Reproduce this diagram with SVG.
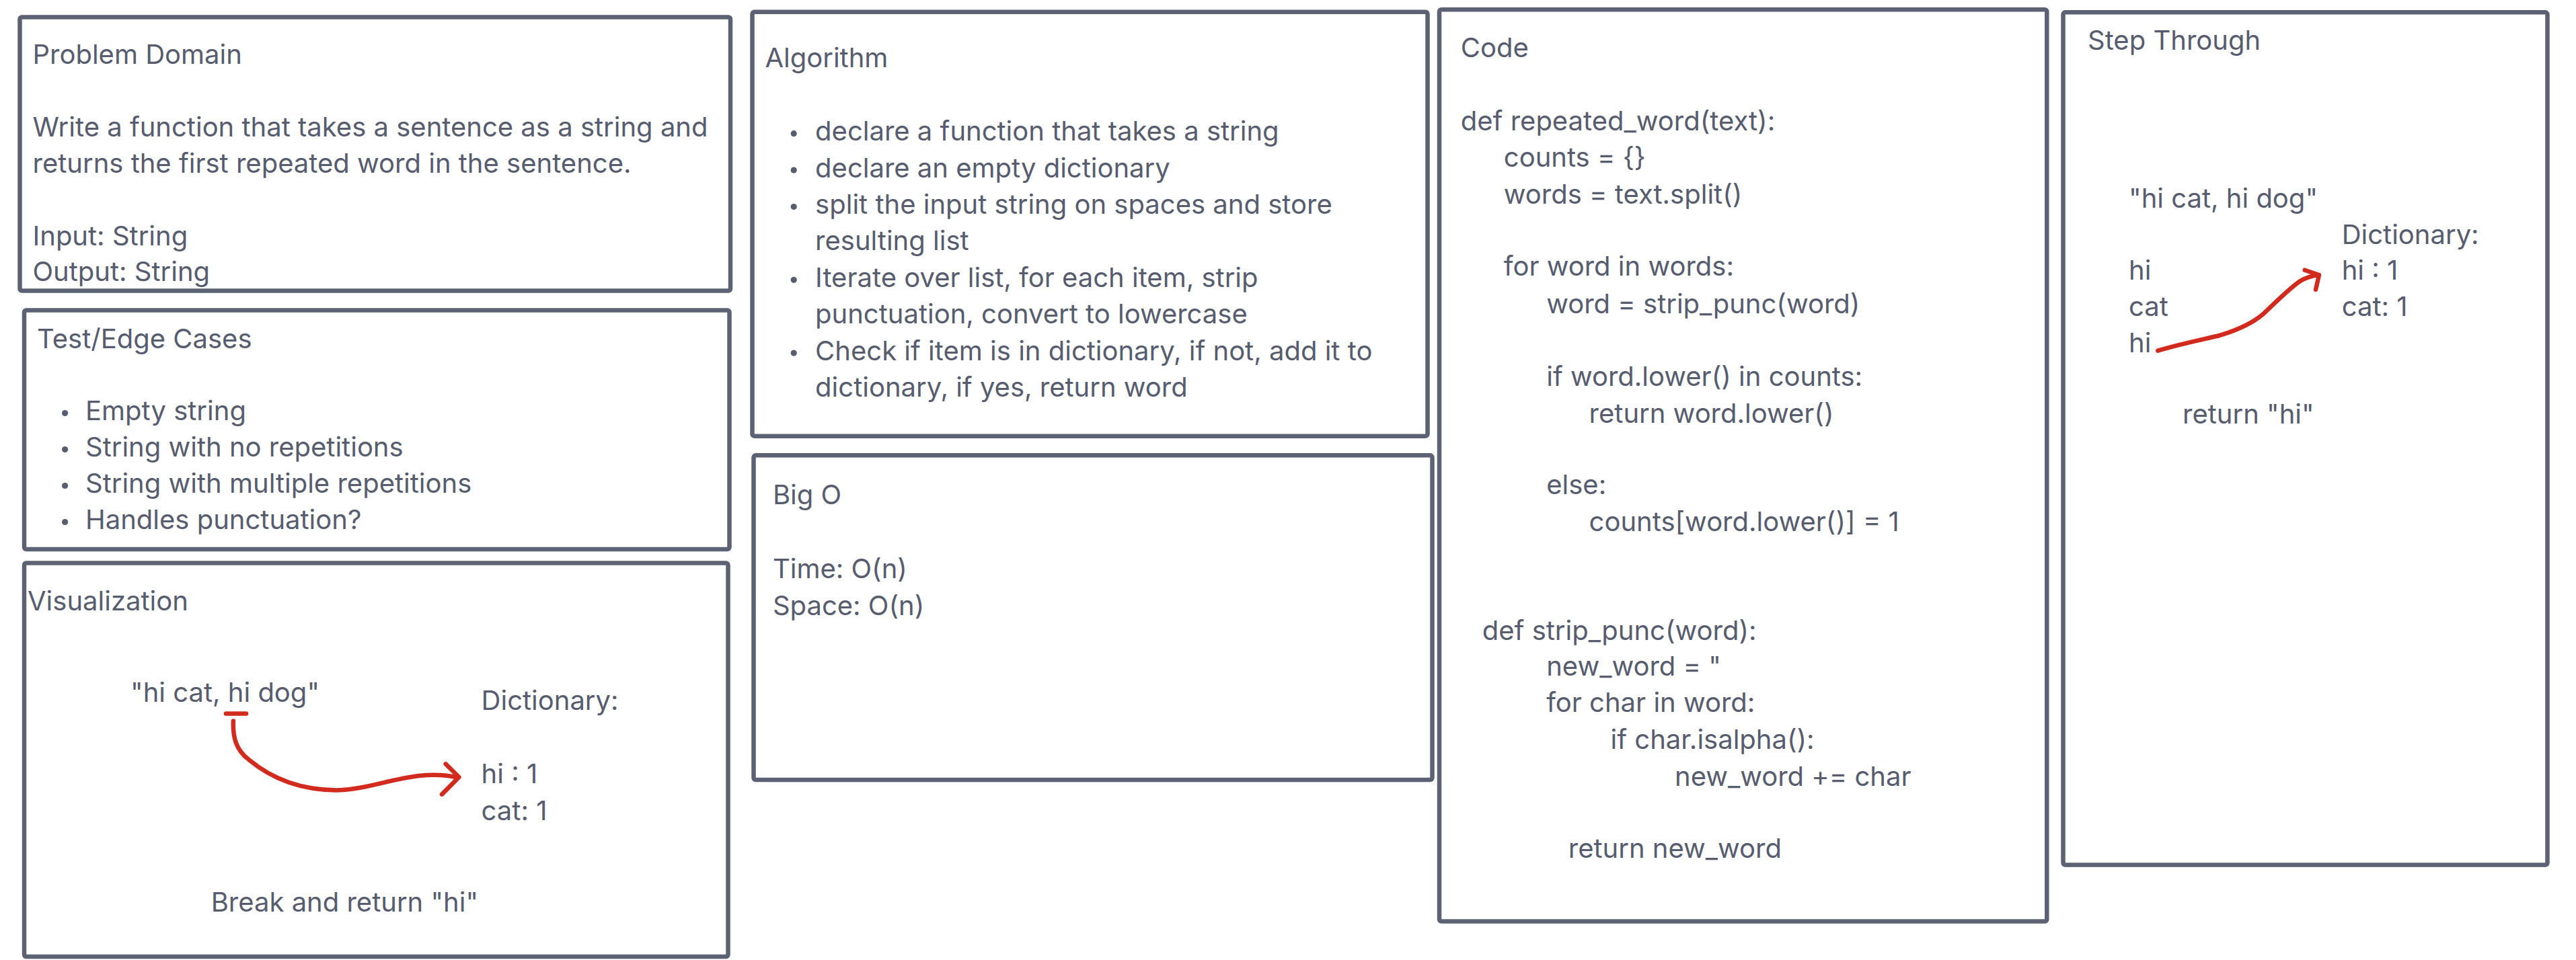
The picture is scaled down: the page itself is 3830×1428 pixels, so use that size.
<svg xmlns="http://www.w3.org/2000/svg" width="3830" height="1428" viewBox="0 0 3830 1428">
<style>
.box{fill:#ffffff;stroke:#5c6173;stroke-width:6.5}
.t{font-family:Inter,"Liberation Sans",sans-serif;font-size:40px;fill:#575c6e}
.dot{fill:#575c6e}
.red{fill:none;stroke:#d22b1e;stroke-width:6.5;stroke-linecap:round;stroke-linejoin:round}
</style>
<rect width="3830" height="1428" fill="#ffffff"/>

<g id="problem-domain">
<rect class="box" x="29.5" y="25.5" width="1056.5" height="407" rx="3"/>
<text class="t" x="48.5" y="95">Problem Domain</text>
<text class="t" x="48.5" y="203.3">Write a function that takes a sentence as a string and</text>
<text class="t" x="48.5" y="257.3">returns the first repeated word in the sentence.</text>
<text class="t" x="48.5" y="365">Input: String</text>
<text class="t" x="48.5" y="418.3">Output: String</text>
</g>

<g id="test-edge-cases">
<rect class="box" x="36" y="461.5" width="1048.5" height="355.5" rx="3"/>
<text class="t" x="55" y="518.3">Test/Edge Cases</text>
<circle class="dot" cx="96.6" cy="614.5" r="4.6"/>
<text class="t" x="127" y="625">Empty string</text>
<circle class="dot" cx="96.6" cy="668.5" r="4.6"/>
<text class="t" x="127" y="679">String with no repetitions</text>
<circle class="dot" cx="96.6" cy="722.5" r="4.6"/>
<text class="t" x="127" y="733">String with multiple repetitions</text>
<circle class="dot" cx="96.6" cy="776.5" r="4.6"/>
<text class="t" x="127" y="787">Handles punctuation?</text>
</g>

<g id="visualization">
<rect class="box" x="36" y="837.5" width="1046.5" height="585.5" rx="3"/>
<text class="t" x="41" y="907.7">Visualization</text>
<text class="t" x="194" y="1044">"hi cat, hi dog"</text>
<text class="t" x="715.6" y="1055.8">Dictionary:</text>
<text class="t" x="715.6" y="1164.9">hi : 1</text>
<text class="t" x="715.6" y="1219.5">cat: 1</text>
<text class="t" x="313.7" y="1355.8">Break and return "hi"</text>
</g>

<g id="algorithm">
<rect class="box" x="1118.5" y="17.7" width="1004" height="631" rx="3"/>
<text class="t" x="1137.4" y="100.3">Algorithm</text>
<circle class="dot" cx="1180.2" cy="198.7" r="4.6"/>
<text class="t" x="1212.1" y="209.2">declare a function that takes a string</text>
<circle class="dot" cx="1180.2" cy="253.1" r="4.6"/>
<text class="t" x="1212.1" y="263.6">declare an empty dictionary</text>
<circle class="dot" cx="1180.2" cy="307.5" r="4.6"/>
<text class="t" x="1212.1" y="318">split the input string on spaces and store</text>
<text class="t" x="1212.1" y="372.4">resulting list</text>
<circle class="dot" cx="1180.2" cy="416.3" r="4.6"/>
<text class="t" x="1212.1" y="426.8">Iterate over list, for each item, strip</text>
<text class="t" x="1212.1" y="481.2">punctuation, convert to lowercase</text>
<circle class="dot" cx="1180.2" cy="525.1" r="4.6"/>
<text class="t" x="1212.1" y="535.6">Check if item is in dictionary, if not, add it to</text>
<text class="t" x="1212.1" y="590">dictionary, if yes, return word</text>
</g>

<g id="big-o">
<rect class="box" x="1120.5" y="677.3" width="1009" height="482.7" rx="3"/>
<text class="t" x="1148.9" y="750">Big O</text>
<text class="t" x="1148.9" y="859.5">Time: O(n)</text>
<text class="t" x="1148.9" y="914.5">Space: O(n)</text>
</g>

<g id="code">
<rect class="box" x="2140" y="14.2" width="903.3" height="1356.3" rx="3"/>
<text class="t" x="2171.8" y="85.4">Code</text>
<text class="t" x="2171.8" y="193.5">def repeated_word(text):</text>
<text class="t" x="2235.8" y="247.6">counts = {}</text>
<text class="t" x="2235.8" y="302.7">words = text.split()</text>
<text class="t" x="2235.8" y="410.3">for word in words:</text>
<text class="t" x="2299.2" y="465.8">word = strip_punc(word)</text>
<text class="t" x="2299.2" y="574">if word.lower() in counts:</text>
<text class="t" x="2362.6" y="628.5">return word.lower()</text>
<text class="t" x="2299.2" y="735">else:</text>
<text class="t" x="2362.6" y="790">counts[word.lower()] = 1</text>
<text class="t" x="2203.8" y="951.7">def strip_punc(word):</text>
<text class="t" x="2299.2" y="1005">new_word = "</text>
<text class="t" x="2299.2" y="1059">for char in word:</text>
<text class="t" x="2394.6" y="1114.4">if char.isalpha():</text>
<text class="t" x="2490" y="1169">new_word += char</text>
<text class="t" x="2331.8" y="1276.3">return new_word</text>
</g>

<g id="step-through">
<rect class="box" x="3067.5" y="18.3" width="720" height="1268.2" rx="3"/>
<text class="t" x="3104" y="73.5">Step Through</text>
<text class="t" x="3165" y="309.3">"hi cat, hi dog"</text>
<text class="t" x="3481.7" y="363.3">Dictionary:</text>
<text class="t" x="3165" y="416">hi</text>
<text class="t" x="3165" y="470">cat</text>
<text class="t" x="3165" y="524">hi</text>
<text class="t" x="3481.7" y="416">hi : 1</text>
<text class="t" x="3481.7" y="470">cat: 1</text>
<text class="t" x="3245" y="630">return "hi"</text>
</g>

<g id="connectors">
<path class="red" d="M336 1061.6 L366 1061.6"/>
<path class="red" d="M346.9 1072.5 C346 1095 350 1115 370 1130 C400 1155 440 1175 500 1175.4 C545 1175 590 1155 634.5 1153 C655 1152 670 1154 681 1157"/>
<path class="red" d="M662.7 1136.4 L682.4 1156 L657 1181.6"/>
<path class="red" d="M3208.3 521.7 C3240 512 3275 505 3300 499 C3330 490 3350 480 3365 467 C3385 448 3405 428 3420 418 C3430 412 3440 410 3446.7 409"/>
<path class="red" d="M3426.7 401.7 L3448 409 L3443 430.7"/>
</g>
</svg>
